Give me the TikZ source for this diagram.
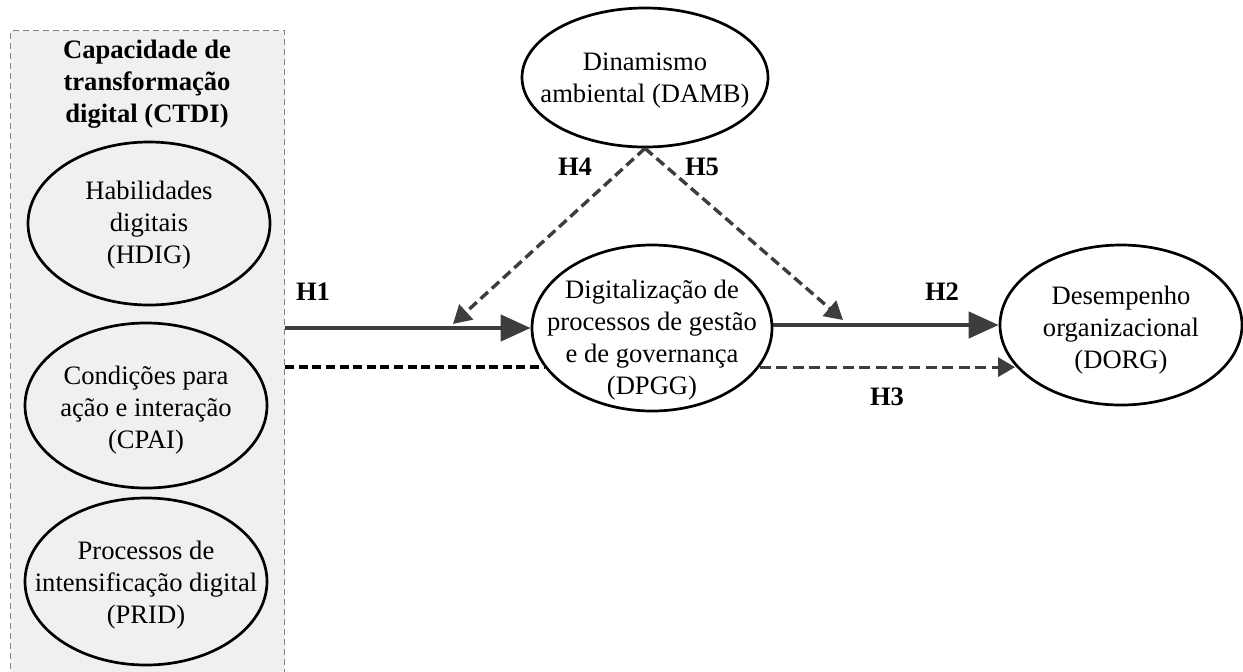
\documentclass[tikz,border=0pt]{standalone}
\usepackage{fontspec}
\setmainfont{Liberation Serif}
\usetikzlibrary{arrows.meta,shapes.geometric}
\definecolor{arrowgray}{HTML}{3D3D3D}
\definecolor{panelgray}{HTML}{F0F0F0}
\definecolor{panelborder}{HTML}{808080}
\begin{document}
\begin{tikzpicture}[x=0.5pt,y=-0.5pt,
  every node/.style={font=\fontsize{13.3}{16}\selectfont},
  panel/.style={draw=panelborder, fill=panelgray, line width=0.6pt,
    dash pattern=on 3pt off 2pt, inner sep=0, anchor=north west},
  construct/.style={ellipse, draw=black, fill=white, line width=1.35pt, inner sep=0},
  inpanel/.style={construct, fill=panelgray},
  caption/.style={align=center, inner sep=0},
  title/.style={caption, font=\fontsize{13.3}{16}\selectfont\bfseries},
  hyp/.style={inner sep=0, font=\fontsize{13.3}{16}\selectfont\bfseries},
  direct/.style={draw=arrowgray, line width=2.2pt, -{Triangle[length=15pt,width=13pt]}},
  moderate/.style={draw=arrowgray, line width=1.7pt, dash pattern=on 5pt off 2.6pt,
    -{Triangle[length=9pt,width=10pt]}},
  mediate/.style={draw=black, line width=1.7pt, dash pattern=on 4.5pt off 2.3pt},
  mediatearrow/.style={draw=arrowgray, line width=1.6pt, dash pattern=on 5.5pt off 2.8pt,
    -{Triangle[length=8.5pt,width=9.5pt]}}
]
\useasboundingbox (0,0) rectangle (1243,671);

% panel of the CTDI dimensions
\node[panel, minimum width=137pt, minimum height=330pt] (ctdi) at (10,30) {};
\node[title] (ctdi-t) at (147,84) {Capacidade de\\transformação\\digital (CTDI)};

\node[inpanel, minimum width=121pt, minimum height=81.5pt] (hdig) at (149,223.5) {};
\node[caption] (hdig-t) at (149,225) {Habilidades\\digitais\\(HDIG)};

\node[inpanel, minimum width=121pt, minimum height=82.5pt] (cpai) at (146,405.5) {};
\node[caption] (cpai-t) at (146,410) {Condições para\\ação e interação\\(CPAI)};

\node[inpanel, minimum width=121pt, minimum height=83.5pt] (prid) at (146,581.5) {};
\node[caption] (prid-t) at (146,585) {Processos de\\intensificação digital\\(PRID)};

% constructs of the model
\node[construct, minimum width=123pt, minimum height=69.5pt] (damb) at (645,77.5) {};
\node[caption] (damb-t) at (645,81) {Dinamismo\\ambiental (DAMB)};

\node[construct, minimum width=120pt, minimum height=83pt] (dpgg) at (652,328) {};
\node[caption] (dpgg-t) at (652,340) {Digitalização de\\processos de gestão\\e de governança\\(DPGG)};

\node[construct, minimum width=121pt, minimum height=80pt] (dorg) at (1121,325) {};
\node[caption] (dorg-t) at (1121,330) {Desempenho\\organizacional\\(DORG)};

% free ends of the moderating paths
\coordinate (h4end) at (453,324);
\coordinate (h5end) at (843,320);

% hypotheses
\draw[direct] (ctdi.east |- dpgg.west) -- (dpgg.west);
\draw[direct] (dpgg.east |- dorg.west) -- (dorg.west);
\draw[mediate] (ctdi.east |- dpgg.200) -- (dpgg.200);
\draw[mediatearrow] (dpgg.340) -- (dpgg.340 -| dorg.201.5);
\draw[moderate] (damb.south) -- (h4end);
\draw[moderate] (damb.south) -- (h5end);

\node[hyp] (h1) at (313,292) {H1};
\node[hyp] (h2) at (942,292) {H2};
\node[hyp] (h3) at (887,397) {H3};
\node[hyp] (h4) at (575,167) {H4};
\node[hyp] (h5) at (702,167) {H5};
\end{tikzpicture}
\end{document}
